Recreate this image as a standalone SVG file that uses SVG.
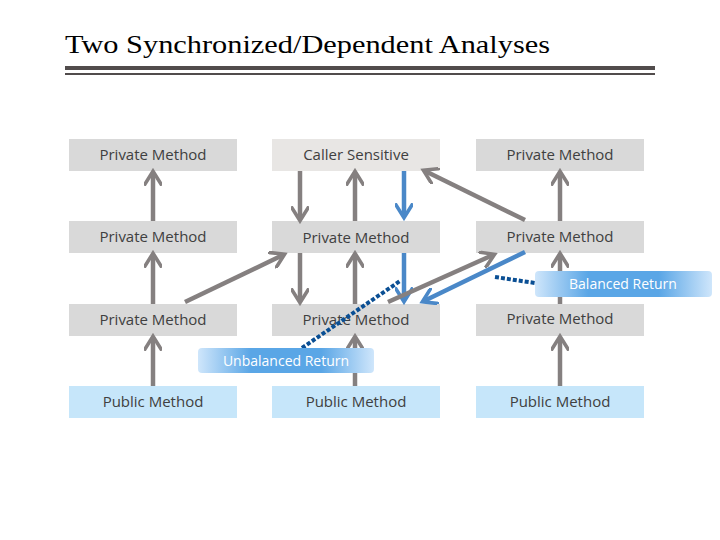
<svg xmlns="http://www.w3.org/2000/svg" width="720" height="540" viewBox="0 0 720 540">
<defs>
<marker id="ag" viewBox="0 0 10 10" refX="7" refY="5" markerWidth="4" markerHeight="4" orient="auto" markerUnits="strokeWidth"><path d="M0,0 L8,5 L0,10" fill="none" stroke="#858080" stroke-width="2"/></marker>
<marker id="ab" viewBox="0 0 10 10" refX="7" refY="5" markerWidth="4" markerHeight="4" orient="auto" markerUnits="strokeWidth"><path d="M0,0 L8,5 L0,10" fill="none" stroke="#4a88c8" stroke-width="2"/></marker>
<linearGradient id="lg" x1="0" x2="1"><stop offset="0" stop-color="#cfe6fb"/><stop offset="0.3" stop-color="#5aa6e6"/><stop offset="0.7" stop-color="#5aa6e6"/><stop offset="1" stop-color="#cfe6fb"/></linearGradient>
</defs>
<style>
text{font-family:"Open Sans","DejaVu Sans",sans-serif;font-size:15px;fill:#404040;text-anchor:middle}
.p{fill:#d9d9d9}.c{fill:#e8e6e4}.u{fill:#c6e6fa}
.g{stroke:#858080;stroke-width:4.5;fill:none;marker-end:url(#ag)}
.b{stroke:#4a88c8;stroke-width:4.5;fill:none;marker-end:url(#ab)}
.d{stroke:#0a4f94;stroke-width:4;stroke-dasharray:4 2;fill:none}
.l{fill:url(#lg)}
.lt{fill:#fff;font-size:14px}
</style>
<rect width="720" height="540" fill="#fff"/>
<text x="65" y="53" textLength="485" lengthAdjust="spacingAndGlyphs" style="font-family:'Liberation Serif',serif;font-size:26px;fill:#000;text-anchor:start">Two Synchronized/Dependent Analyses</text>
<rect x="65" y="66" width="590" height="4" fill="#514c4c"/>
<rect x="65" y="73" width="590" height="2" fill="#514c4c"/>
<g id="n1"><rect class="p" x="69" y="139" width="168" height="32"/><text x="153" y="160">Private Method</text></g>
<g id="n2"><rect class="c" x="272" y="139" width="168" height="32"/><text x="356" y="160">Caller Sensitive</text></g>
<g id="n3"><rect class="p" x="476" y="139" width="168" height="32"/><text x="560" y="160">Private Method</text></g>
<g id="n4"><rect class="p" x="69" y="221" width="168" height="32"/><text x="153" y="242">Private Method</text></g>
<g id="n5"><rect class="p" x="272" y="221" width="168" height="32"/><text x="356" y="243">Private Method</text></g>
<g id="n6"><rect class="p" x="476" y="221" width="168" height="32"/><text x="560" y="242">Private Method</text></g>
<g id="n7"><rect class="p" x="69" y="304" width="168" height="32"/><text x="153" y="325">Private Method</text></g>
<g id="n8"><rect class="p" x="272" y="304" width="168" height="32"/><text x="356" y="325">Private Method</text></g>
<g id="n9"><rect class="p" x="476" y="304" width="168" height="32"/><text x="560" y="324">Private Method</text></g>
<g id="n10"><rect class="u" x="69" y="386" width="168" height="32"/><text x="153" y="407">Public Method</text></g>
<g id="n11"><rect class="u" x="272" y="386" width="168" height="32"/><text x="356" y="407">Public Method</text></g>
<g id="n12"><rect class="u" x="476" y="386" width="168" height="32"/><text x="560" y="407">Public Method</text></g>
<g id="connectors">
<path class="g" d="M153,221V173"/><path class="g" d="M153,304V255"/><path class="g" d="M153,386V338"/>
<path class="g" d="M300,171V219"/><path class="g" d="M355,221V173"/><path class="b" d="M404,171V216"/>
<path class="g" d="M300,253V301"/><path class="g" d="M355,304V255"/><path class="b" d="M404,253V300"/>
<path class="g" d="M355,386V338"/>
<path class="g" d="M560,221V173"/><path class="g" d="M560,304V255"/><path class="g" d="M560,386V338"/>
<path class="g" d="M185,302L283,255"/>
<path class="g" d="M388,302L493,255"/>
<path class="b" d="M525,252L424,301"/>
<path class="g" d="M525,220L425,171"/>
<path class="d" d="M495,277L535,283"/>
<path class="d" d="M302,348L400,281"/>
</g>
<g id="balanced"><rect class="l" x="535" y="271" width="177" height="26" rx="4"/><text class="lt" x="623" y="289">Balanced Return</text></g>
<g id="unbalanced"><rect class="l" x="198" y="348" width="176" height="25" rx="4"/><text class="lt" x="286" y="366">Unbalanced Return</text></g>
</svg>
